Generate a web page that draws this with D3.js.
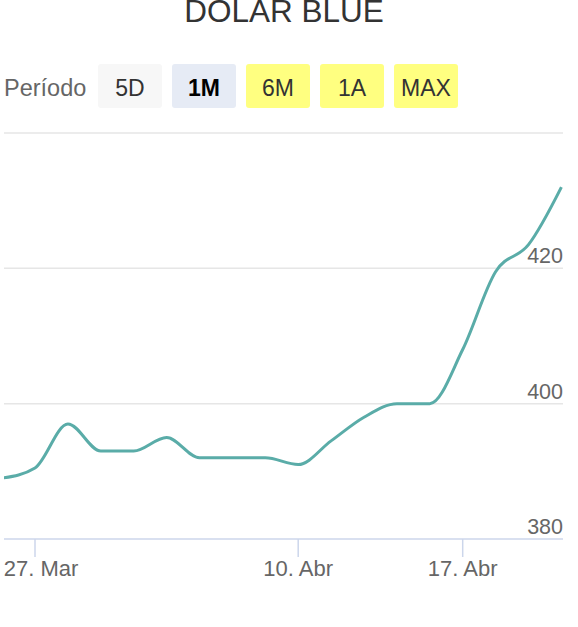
<!DOCTYPE html>
<html>
<head>
<meta charset="utf-8">
<script src="https://cdn.jsdelivr.net/npm/d3@7"></script>
<style>
  body { margin: 0; background: #fff; }
  text { font-family: "Liberation Sans", Arial, sans-serif; }
</style>
</head>
<body>
<div id="chart"></div>
<script>
// trading days shown (ordinal axis, weekends and holidays skipped)
var dates = ["23 Mar", "27 Mar", "28 Mar", "29 Mar", "30 Mar", "31 Mar",
             "3 Abr", "4 Abr", "5 Abr", "10 Abr", "11 Abr", "12 Abr",
             "13 Abr", "14 Abr", "17 Abr", "18 Abr", "19 Abr", "20 Abr"];
var values = [389, 390.5, 397, 393, 393, 395,
              392, 392, 392, 391, 394.5, 398,
              400, 400, 408, 419.5, 423.5, 432];
var yTicks = [380, 400, 420, 440];
var xTicks = [{ index: 1, label: "27. Mar" }, { index: 9, label: "10. Abr" }, { index: 14, label: "17. Abr" }];
var buttons = ["5D", "1M", "6M", "1A", "MAX"];
var selectedButton = "1M";

var width = 578;
var height = 627;

var plot = { left: 4, right: 563, top: 133, bottom: 539 };

var svg = d3.select("#chart")
    .append("svg")
    .attr("width", width)
    .attr("height", height);

// title, partly cut off at the top like the original
svg.append("text")
    .attr("x", 284)
    .attr("y", 22)
    .attr("text-anchor", "middle")
    .style("font-size", "31.5px")
    .style("fill", "#333")
    .text("DOLAR BLUE");

// range selector
svg.append("text")
    .attr("x", 4)
    .attr("y", 96)
    .style("font-size", "23.5px")
    .style("fill", "#666")
    .text("Período");

var btn = svg.selectAll(".btn")
    .data(buttons)
    .enter()
    .append("g")
    .attr("class", "btn")
    .attr("transform", function(d, i) { return "translate(" + (98 + i * 74) + ",64)"; });

btn.append("rect")
    .attr("width", 64)
    .attr("height", 44)
    .attr("rx", 3)
    .attr("fill", function(d, i) {
        if (d == selectedButton) return "#e6ebf5";
        return i == 0 ? "#f7f7f7" : "#ffff80";
    });

btn.append("text")
    .attr("x", 32)
    .attr("y", 31.5)
    .attr("text-anchor", "middle")
    .style("font-size", "23px")
    .style("font-weight", function(d) { return d == selectedButton ? "bold" : "normal"; })
    .style("fill", function(d) { return d == selectedButton ? "#000" : "#333"; })
    .text(function(d) { return d; });

// scales
var step = 32.9;
var x = d3.scaleLinear()
    .domain([1 - (35 - plot.left) / step, 1 + (plot.right - 35) / step])
    .range([plot.left, plot.right]);

var y = d3.scaleLinear()
    .domain([380, 440])
    .range([plot.bottom, plot.top]);

// grid lines
svg.selectAll(".grid")
    .data(yTicks.filter(function(d) { return d > 380; }))
    .enter()
    .append("line")
    .attr("class", "grid")
    .attr("x1", plot.left)
    .attr("x2", plot.right)
    .attr("y1", function(d) { return y(d); })
    .attr("y2", function(d) { return y(d); })
    .attr("stroke", "#e6e6e6")
    .attr("stroke-width", 1.5);

// y labels sit on top of their grid line, right aligned
svg.selectAll(".ylab")
    .data(yTicks.filter(function(d) { return d < 440; }))
    .enter()
    .append("text")
    .attr("class", "ylab")
    .attr("x", plot.right)
    .attr("y", function(d) { return y(d) - 5; })
    .attr("text-anchor", "end")
    .style("font-size", "21.5px")
    .style("fill", "#666")
    .text(function(d) { return d; });

// x axis
svg.append("line")
    .attr("x1", plot.left)
    .attr("x2", plot.right)
    .attr("y1", plot.bottom)
    .attr("y2", plot.bottom)
    .attr("stroke", "#ccd6eb")
    .attr("stroke-width", 1.5);

svg.selectAll(".xtick")
    .data(xTicks)
    .enter()
    .append("line")
    .attr("class", "xtick")
    .attr("x1", function(d) { return x(d.index); })
    .attr("x2", function(d) { return x(d.index); })
    .attr("y1", plot.bottom)
    .attr("y2", plot.bottom + 18)
    .attr("stroke", "#ccd6eb")
    .attr("stroke-width", 1.5);

svg.selectAll(".xlab")
    .data(xTicks)
    .enter()
    .append("text")
    .attr("class", "xlab")
    .attr("x", function(d) { return Math.max(x(d.index), plot.left + 37); })
    .attr("y", 576)
    .attr("text-anchor", "middle")
    .style("font-size", "22px")
    .style("fill", "#666")
    .text(function(d) { return d.label; });

// series
svg.append("clipPath")
    .attr("id", "clip")
    .append("rect")
    .attr("x", plot.left)
    .attr("y", 0)
    .attr("width", plot.right - plot.left)
    .attr("height", plot.bottom);

var line = d3.line()
    .x(function(d, i) { return x(i); })
    .y(function(d) { return y(d); })
    .curve(d3.curveMonotoneX);

svg.append("path")
    .datum(values)
    .attr("clip-path", "url(#clip)")
    .attr("d", line)
    .attr("fill", "none")
    .attr("stroke", "#5aaca8")
    .attr("stroke-width", 3)
    .attr("stroke-linejoin", "round");
</script>
</body>
</html>
